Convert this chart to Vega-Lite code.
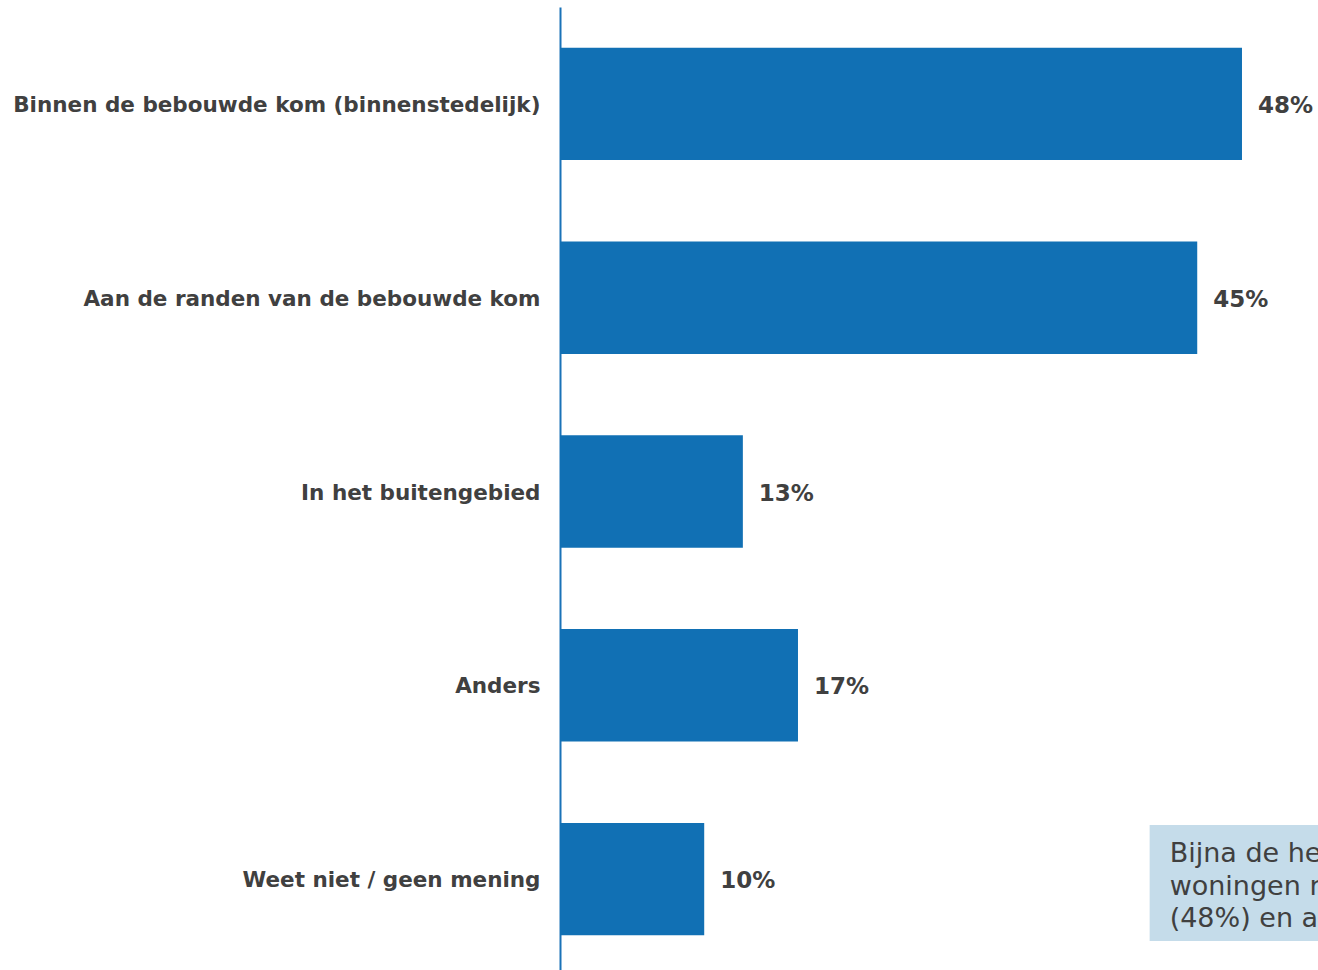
{
  "$schema": "https://vega.github.io/schema/vega-lite/v6.json",
  "autosize": {"type": "none"},
  "width": 758,
  "height": 969,
  "padding": {"left": 560, "top": 7, "right": 0, "bottom": 0},
  "background": "white",
  "config": {"view": {"stroke": null}},
  "datasets": {
    "bars": [
      {"category": "Binnen de bebouwde kom (binnenstedelijk)", "pct": 0.48},
      {"category": "Aan de randen van de bebouwde kom", "pct": 0.4485},
      {"category": "In het buitengebied", "pct": 0.1287},
      {"category": "Anders", "pct": 0.1675},
      {"category": "Weet niet / geen mening", "pct": 0.1015}
    ],
    "note": [
      {"category": "Weet niet / geen mening", "start": 0.415, "end": 0.7, "text": "Bijna de helft wil de nieuwe\nwoningen realiseren binnen de bebouwde kom\n(48%) en aan de randen van de bebouwde kom (45%)."}
    ]
  },
  "encoding": {
    "y": {
      "field": "category",
      "type": "nominal",
      "sort": null,
      "scale": {
        "domain": ["Binnen de bebouwde kom (binnenstedelijk)", "Aan de randen van de bebouwde kom", "In het buitengebied", "Anders", "Weet niet / geen mening"],
        "paddingInner": 0.42,
        "paddingOuter": 0.21
      },
      "axis": {
        "title": null,
        "ticks": false,
        "labelPadding": 20,
        "labelOffset": 2,
        "labelLimit": 0,
        "labelFont": "DejaVu Sans",
        "labelFontWeight": "bold",
        "labelFontSize": 21.5,
        "labelColor": "#404040",
        "domainColor": "#1a72b8",
        "domainWidth": 2,
        "grid": false
      }
    }
  },
  "layer": [
    {
      "data": {"name": "bars"},
      "mark": {"type": "bar", "color": "#1170b4", "cornerRadius": 0},
      "encoding": {
        "x": {"field": "pct", "type": "quantitative", "scale": {"domain": [0, 0.5335], "nice": false, "zero": true}, "axis": null}
      }
    },
    {
      "data": {"name": "bars"},
      "mark": {"type": "text", "align": "left", "baseline": "middle", "dx": 16, "dy": 2, "font": "DejaVu Sans", "fontWeight": "bold", "fontSize": 23, "color": "#404040"},
      "encoding": {
        "x": {"field": "pct", "type": "quantitative"},
        "text": {"field": "pct", "type": "quantitative", "format": ".0%"}
      }
    },
    {
      "data": {"name": "note"},
      "mark": {"type": "bar", "color": "#c5dcea", "clip": true, "height": {"band": 1.032}, "yOffset": 4},
      "encoding": {
        "x": {"field": "start", "type": "quantitative"},
        "x2": {"field": "end"}
      }
    },
    {
      "data": {"name": "note"},
      "mark": {"type": "text", "clip": true, "align": "left", "baseline": "alphabetic", "dx": 20, "dy": -17, "font": "DejaVu Sans", "fontSize": 27, "lineHeight": 32.5, "lineBreak": "\n", "color": "#404040"},
      "encoding": {
        "x": {"field": "start", "type": "quantitative"},
        "text": {"field": "text", "type": "nominal"}
      }
    }
  ]
}
